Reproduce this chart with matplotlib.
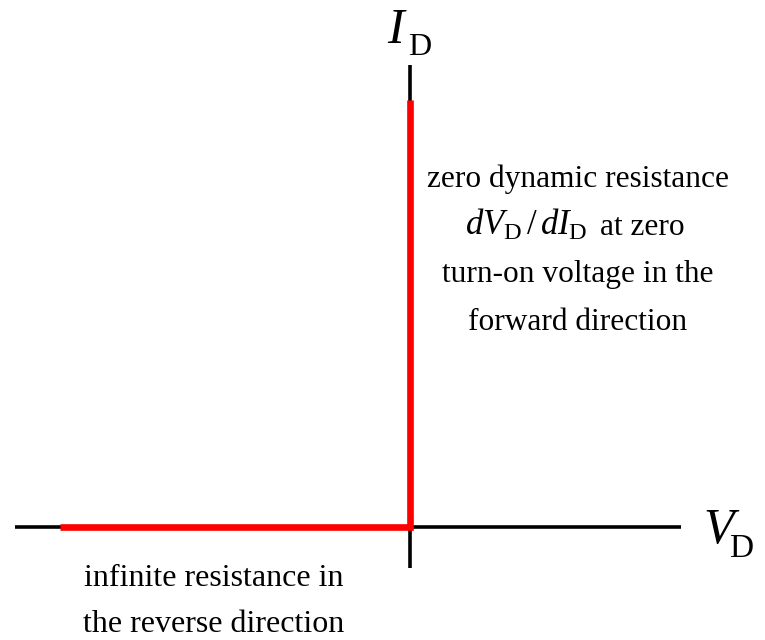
import matplotlib
matplotlib.use('Agg')
import matplotlib.pyplot as plt

plt.rcParams['font.family'] = 'Liberation Serif'
plt.rcParams['mathtext.fontset'] = 'custom'
plt.rcParams['mathtext.rm'] = 'Liberation Serif'
plt.rcParams['mathtext.it'] = 'Liberation Serif:italic'

# ideal diode characteristic (arbitrary units, origin = knee)
v_diode = [-350, 0, 0]
i_diode = [0, 0, 427]

# extent of the drawn axes
v_axis = [-395, 271]
i_axis = [-41, 462]

forward_text = ['zero dynamic resistance',
                None,   # dV/dI line, built from two pieces below
                'turn-on voltage in the',
                'forward direction']
reverse_text = ['infinite resistance in', 'the reverse direction']

fig = plt.figure(figsize=(7.65, 6.4), dpi=100)
ax = fig.add_axes([0, 0, 1, 1])
ax.set_xlim(-409.5, 355.5)
ax.set_ylim(-113, 527)
ax.axis('off')

# axes
ax.plot(v_axis, [0, 0], color='black', linewidth=2.6, solid_capstyle='butt')
ax.plot([0, 0], i_axis, color='black', linewidth=2.6, solid_capstyle='butt')

# characteristic
ax.plot(v_diode, i_diode, color='#ff0000', linewidth=4.8,
        solid_capstyle='butt', solid_joinstyle='miter')

# axis labels
ax.text(-22.5, 484, 'I', fontsize=36, style='italic', va='baseline', ha='left')
ax.text(-1.5, 472, 'D', fontsize=23, va='baseline', ha='left')
ax.text(293.5, -16, 'V', fontsize=36, style='italic', va='baseline', ha='left')
ax.text(319.5, -30, 'D', fontsize=24, va='baseline', ha='left')

# annotations
y = 340
for line in forward_text:
    if line is not None:
        ax.text(168.5, y, line, fontsize=22.6, ha='center', va='baseline')
    y -= 47.5

ax.text(55.5, 292, r'$dV_{\mathrm{D}}\,\mathrm{/}\,dI_{\mathrm{D}}$',
        fontsize=25, ha='left', va='baseline')
ax.text(190.5, 292, 'at zero', fontsize=22.6, ha='left', va='baseline')

y = -59
for line in reverse_text:
    ax.text(-195.5, y, line, fontsize=23, ha='center', va='baseline')
    y -= 46

plt.savefig('out.png', dpi=100)
